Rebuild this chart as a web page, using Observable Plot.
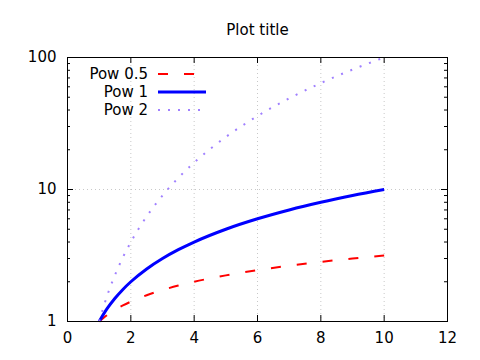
<!DOCTYPE html>
<html>
<head>
<meta charset="utf-8">
<script src="https://cdn.jsdelivr.net/npm/d3@7"></script>
<script src="https://cdn.jsdelivr.net/npm/@observablehq/plot@0.6"></script>
<style>
  html, body { margin: 0; padding: 0; background: #fff; }
  svg { display: block; }
</style>
</head>
<body>
<div id="chart"></div>
<script>
const titleText = "Plot title";
const seriesNames = ["Pow 0.5", "Pow 1", "Pow 2"];
const xs = [1, 1.25, 1.5, 1.75, 2, 2.5, 3, 3.5, 4, 5, 6, 7, 8, 9, 10];
const pow05 = [1, 1.118, 1.225, 1.323, 1.414, 1.581, 1.732, 1.871, 2, 2.236, 2.449, 2.646, 2.828, 3, 3.162];
const pow1 = [1, 1.25, 1.5, 1.75, 2, 2.5, 3, 3.5, 4, 5, 6, 7, 8, 9, 10];
const pow2 = [1, 1.5625, 2.25, 3.0625, 4, 6.25, 9, 12.25, 16, 25, 36, 49, 64, 81, 100];
const xTicks = [0, 2, 4, 6, 8, 10, 12];
const yTicks = [1, 10, 100];
const yMinor = [2, 3, 4, 5, 6, 7, 8, 9, 20, 30, 40, 50, 60, 70, 80, 90];
const xGrid = [2, 4, 6, 8, 10];
const yGrid = [10];

const colors = ["#ff0000", "#0000ff", "#a080ff"];
const widths = [2, 3, 2];
const dashes = ["10,16", null, "2,8"];
const seriesVals = [pow05, pow1, pow2];

const data = [];
seriesVals.forEach((vals, s) => xs.forEach((x, i) => data.push({series: seriesNames[s], x, y: vals[i]})));

const W = 480, H = 360;
const mL = 67, mR = 33, mT = 57, mB = 39;
const frameH = H - mT - mB, frameW = W - mL - mR;
const FONT = "DejaVu Sans, sans-serif";
const FS = 15;

const lineMarks = seriesNames.map((name, s) =>
  Plot.line(data.filter(d => d.series === name), {
    x: "x", y: "y", stroke: colors[s], strokeWidth: widths[s],
    strokeDasharray: dashes[s] || undefined, curve: "monotone-x",
    strokeLinecap: "butt"
  })
);

const plot = Plot.plot({
  width: W, height: H,
  marginLeft: mL, marginRight: mR, marginTop: mT, marginBottom: mB,
  style: {fontFamily: FONT, fontSize: FS + "px", color: "#000", background: "#fff"},
  x: {domain: [0, 12], label: null},
  y: {type: "log", domain: [1, 100], label: null},
  marks: [
    Plot.ruleX(xGrid, {stroke: "#c8c8c8", strokeWidth: 1, strokeDasharray: "1,3"}),
    Plot.ruleY(yGrid, {stroke: "#c8c8c8", strokeWidth: 1, strokeDasharray: "1,3"}),
    ...lineMarks,
    Plot.frame({stroke: "#000", strokeWidth: 1}),
    Plot.ruleX(xTicks, {stroke: "#000", insetTop: frameH - 6}),
    Plot.ruleX(xTicks, {stroke: "#000", insetBottom: frameH - 6}),
    Plot.ruleY(yTicks, {stroke: "#000", insetRight: frameW - 6}),
    Plot.ruleY(yTicks, {stroke: "#000", insetLeft: frameW - 6}),
    Plot.ruleY(yMinor, {stroke: "#000", insetRight: frameW - 3}),
    Plot.ruleY(yMinor, {stroke: "#000", insetLeft: frameW - 3}),
    Plot.axisX(xTicks, {tickSize: 0, tickPadding: 11, fontSize: FS, label: null, tickFormat: d => String(d)}),
    Plot.axisY(yTicks, {tickSize: 0, tickPadding: 11, fontSize: FS, label: null, tickFormat: d => String(d)}),
    Plot.text([titleText], {frameAnchor: "top", dy: -27, fontSize: FS, fill: "#000", lineAnchor: "middle"})
  ]
});

const svg = d3.select(plot);
const leg = svg.append("g").attr("font-family", FONT).attr("font-size", FS);
seriesNames.forEach((name, i) => {
  const y = 74 + i * 18;
  leg.append("text").attr("x", 148).attr("y", y).attr("dy", "0.35em")
    .attr("text-anchor", "end").attr("fill", "#000").text(name);
  leg.append("line").attr("x1", 158).attr("x2", 206).attr("y1", y).attr("y2", y)
    .attr("stroke", colors[i]).attr("stroke-width", widths[i])
    .attr("stroke-dasharray", dashes[i] || null);
});

document.getElementById("chart").appendChild(plot);
</script>
</body>
</html>
